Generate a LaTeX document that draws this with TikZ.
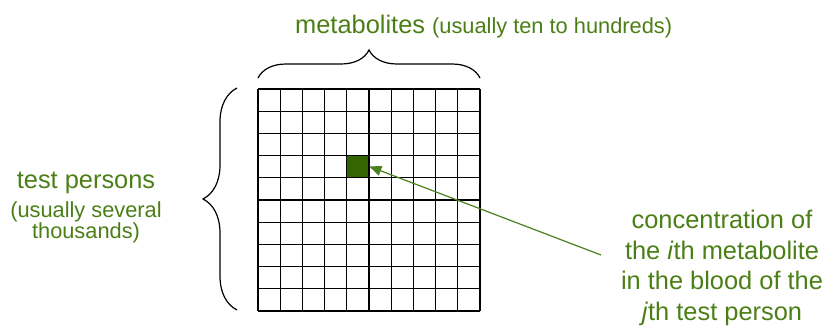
\documentclass[tikz,border=0pt]{standalone}
\usepackage{fontspec}
\setmainfont{Liberation Sans}
\usetikzlibrary{decorations.pathreplacing,arrows.meta}
\definecolor{txtgreen}{HTML}{4B7F16}
\definecolor{cellgreen}{HTML}{336600}
\definecolor{arrgreen}{HTML}{4A8020}
\tikzset{
  big/.style={font=\fontsize{25.4bp}{30bp}\selectfont, text=txtgreen, inner sep=0pt},
  small/.style={font=\fontsize{21.8bp}{26bp}\selectfont, text=txtgreen, inner sep=0pt},
  gridline/.style={line width=1.1bp, black},
  bracestyle/.style={decorate, decoration={brace, amplitude=#1}, line width=1.2bp, black},
  pointer/.style={arrgreen, line width=1.2bp, -{Triangle[length=12bp,width=10bp]}}
}
\begin{document}
\begin{tikzpicture}[x=1bp,y=1bp]
\useasboundingbox (0,0) rectangle (823,326);
% highlighted cell
\node[fill=cellgreen, minimum width=22.2bp, minimum height=22.2bp, inner sep=0pt, anchor=south west] (cell) at (346.8,148.2) {};
% grid
\foreach \i in {0,...,10} {
  \draw[gridline] ({258+22.2*\i},15) -- ({258+22.2*\i},237);
  \draw[gridline] (258,{15+22.2*\i}) -- (480,{15+22.2*\i});
}
% braces
\coordinate (tbl) at (258,248);
\coordinate (tbr) at (480,248);
\draw[bracestyle=28bp] (tbl) -- (tbr);
\coordinate (lbb) at (237,16);
\coordinate (lbt) at (237,238);
\draw[bracestyle=34bp] (lbb) -- (lbt);
% top label
\node[big, anchor=base west] (met) at (295,293) {metabolites \fontsize{21.8bp}{26bp}\selectfont(usually ten to hundreds)};
% left label
\node[big, anchor=base] (tp1) at (86,138) {test persons};
\node[small, anchor=base] (tp2) at (86,109) {(usually several};
\node[small, anchor=base] (tp3) at (86,88) {thousands)};
% right label
\node[big, anchor=base] (c1) at (722,97.5) {concentration of};
\node[big, anchor=base] (c2) at (722,67) {the \textit{i}th metabolite};
\node[big, anchor=base] (c3) at (722,36.5) {in the blood of the};
\node[big, anchor=base] (c4) at (722,6) {\textit{j}th test person};
% arrow
\coordinate (astart) at (601,71);
\draw[pointer] (astart) -- (cell.east);
\end{tikzpicture}
\end{document}
